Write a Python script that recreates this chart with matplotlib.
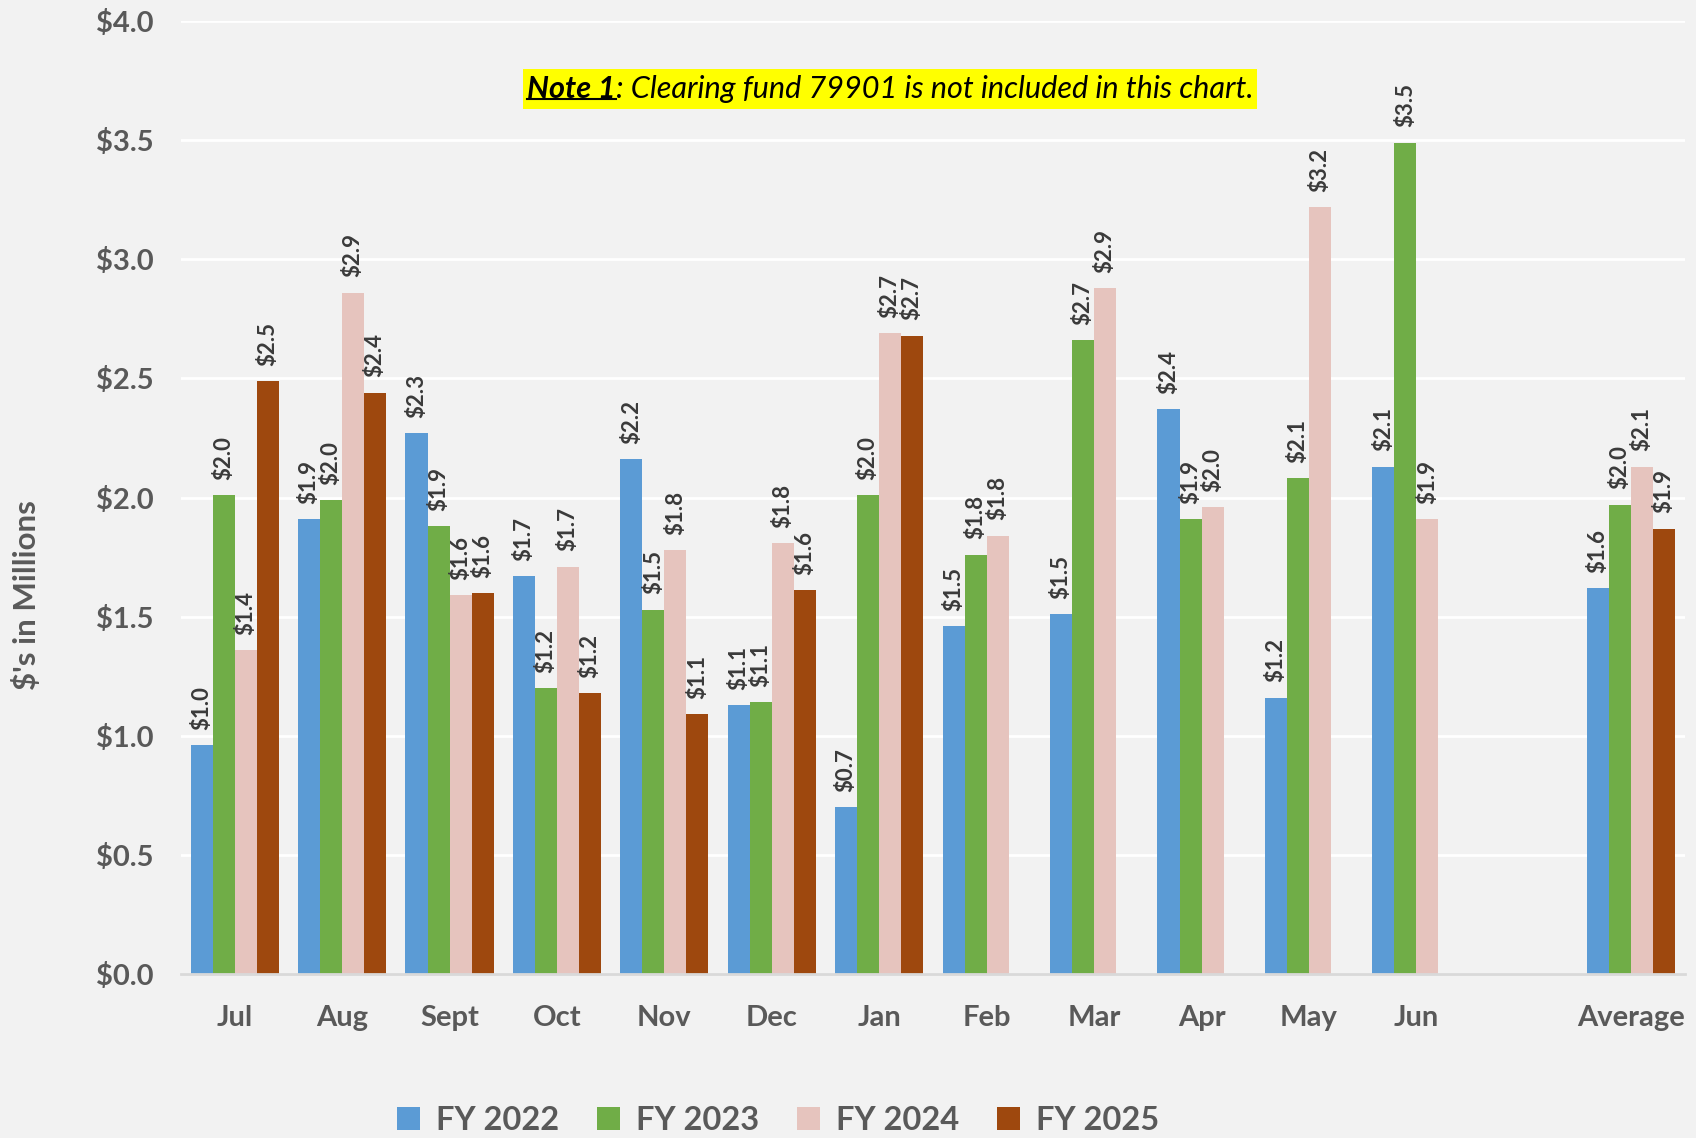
import numpy as np
import matplotlib.pyplot as plt
from matplotlib.patches import Rectangle
from matplotlib.lines import Line2D

plt.rcParams['font.family'] = ['Lato', 'DejaVu Sans']

# Datos (millones de $)
meses = ['Jul', 'Aug', 'Sept', 'Oct', 'Nov', 'Dec', 'Jan', 'Feb', 'Mar', 'Apr', 'May', 'Jun', '', 'Average']
fy2022 = [0.96, 1.91, 2.27, 1.67, 2.16, 1.13, 0.70, 1.46, 1.51, 2.37, 1.16, 2.13, None, 1.62]
fy2023 = [2.01, 1.99, 1.88, 1.20, 1.53, 1.14, 2.01, 1.76, 2.66, 1.91, 2.08, 3.49, None, 1.97]
fy2024 = [1.36, 2.86, 1.59, 1.71, 1.78, 1.81, 2.69, 1.84, 2.88, 1.96, 3.22, 1.91, None, 2.13]
fy2025 = [2.49, 2.44, 1.60, 1.18, 1.09, 1.61, 2.68, None, None, None, None, None, None, 1.87]

series = {'FY 2022': fy2022, 'FY 2023': fy2023, 'FY 2024': fy2024, 'FY 2025': fy2025}
colores = ['#5B9BD5', '#70AD47', '#E6C4BE', '#9E480E']

gris = '#595959'
fondo = '#F2F2F2'

fig = plt.figure(figsize=(16.96, 11.38), dpi=100, facecolor=fondo)
ax = fig.add_axes([0.1067, 0.1441, 0.8868, 0.8374])
ax.set_facecolor(fondo)

x = np.arange(len(meses))
ancho = 0.205
for i, (nombre, valores) in enumerate(series.items()):
    v = np.array([np.nan if val is None else val for val in valores])
    pos = x + (i - 1.5) * ancho
    ax.bar(pos, v, width=ancho, color=colores[i], label=nombre, zorder=3)
    # etiquetas de datos rotadas
    for px, val in zip(pos, v):
        if np.isnan(val):
            continue
        ax.annotate(f'${val:.1f}', (px, val), xytext=(0, 11), textcoords='offset points',
                    rotation=90, ha='center', va='bottom', fontsize=16,
                    fontweight='bold', color='#3A3A3A', zorder=4)

ax.set_xlim(-0.5, len(meses) - 0.5)
ax.set_ylim(0, 4)
ax.set_yticks(np.arange(0, 4.01, 0.5))
ax.set_yticklabels([f'${t:.1f}' for t in np.arange(0, 4.01, 0.5)])
ax.set_xticks(x)
ax.set_xticklabels(meses)
ax.tick_params(axis='both', length=0, labelsize=21, labelcolor=gris)
ax.tick_params(axis='x', pad=22)
ax.tick_params(axis='y', pad=20)
for lab in ax.get_xticklabels() + ax.get_yticklabels():
    lab.set_fontweight('bold')

ax.grid(axis='y', color='white', linewidth=2, zorder=0)
for s in ['top', 'right', 'left']:
    ax.spines[s].set_visible(False)
ax.spines['bottom'].set_color('#D9D9D9')
ax.spines['bottom'].set_linewidth(2)
ax.spines['bottom'].set_zorder(5)

fig.text(27 / 1696, 1 - 595 / 1138, "$'s in Millions", rotation=90, ha='center', va='center',
         fontsize=22.5, fontweight='bold', color=gris)

leg = fig.legend(loc='center', ncol=4, bbox_to_anchor=(778 / 1696, 1 - 1120 / 1138),
                 frameon=False, fontsize=23.5, handlelength=0.7, handleheight=0.7,
                 columnspacing=1.15, handletextpad=0.5)
for t in leg.get_texts():
    t.set_color(gris)
    t.set_fontweight('bold')

# Nota con fondo amarillo (ajuste del tamano al ancho de la caja)
W, H = fig.bbox.width, fig.bbox.height
r = fig.canvas.get_renderer()
nota_y = 1 - 89 / 1138
tam = 20
t1 = fig.text(527 / W, nota_y, 'Note 1', fontsize=tam, fontweight='bold',
              fontstyle='italic', color='black', va='center', zorder=10)
b1 = t1.get_window_extent(r)
t2 = fig.text(b1.x1 / W, nota_y, ': Clearing fund 79901 is not included in this chart.',
              fontsize=tam, fontstyle='italic', color='black', va='center', zorder=10)
b2 = t2.get_window_extent(r)
escala = 727 / (b2.x1 - b1.x0)
t1.set_fontsize(tam * escala)
t2.set_fontsize(tam * escala)
b1 = t1.get_window_extent(r)
t2.set_x(b1.x1 / W)
b2 = t2.get_window_extent(r)

x0, x1 = b1.x0 - 4, b2.x1 + 4
y0, y1 = H - 109, H - 69
fig.patches.append(Rectangle((x0 / W, y0 / H), (x1 - x0) / W, (y1 - y0) / H,
                             transform=fig.transFigure, facecolor='#FFFF00',
                             edgecolor='none', zorder=1))
yl = (b1.y0 + 4) / H
fig.lines.append(Line2D([b1.x0 / W, b1.x1 / W], [yl, yl], transform=fig.transFigure,
                        color='black', linewidth=1.5, zorder=11))

fig.savefig('out.png', dpi=100, facecolor=fondo)
